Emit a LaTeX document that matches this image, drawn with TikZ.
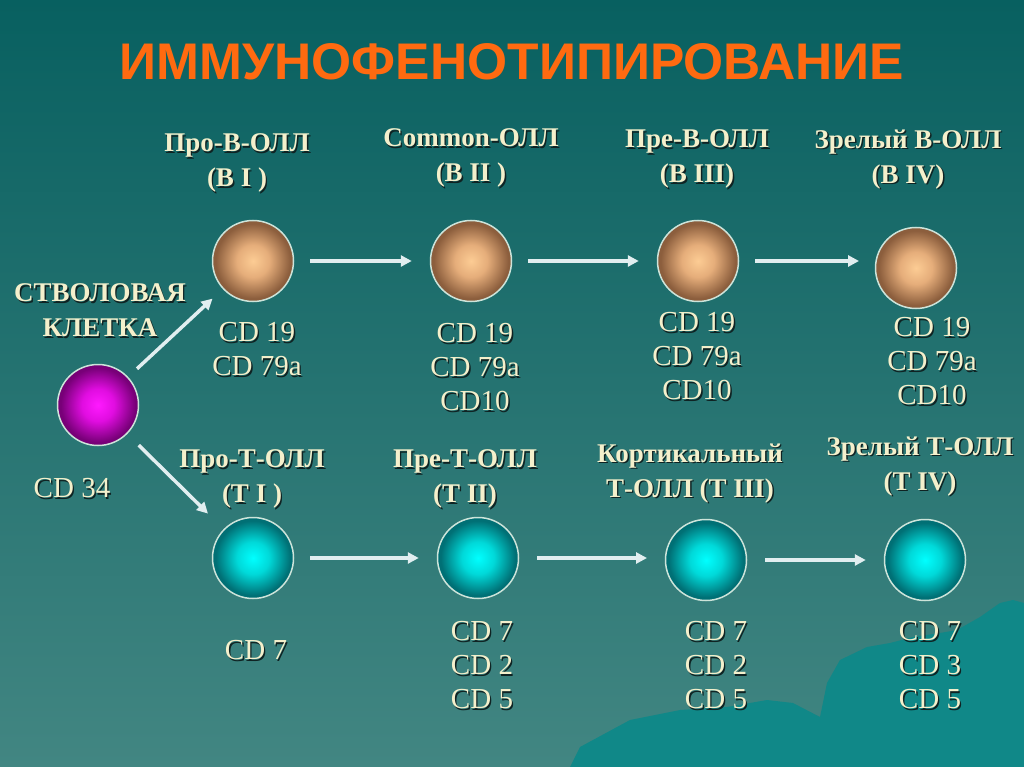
\documentclass[tikz,border=0pt]{standalone}
\usepackage{fontspec}
\setmainfont{Liberation Serif}
\newfontfamily\titlefont{Liberation Sans}
\usetikzlibrary{arrows.meta}
\definecolor{cream}{RGB}{244,240,204}
\definecolor{shadowcol}{RGB}{15,35,35}
\definecolor{titleorange}{RGB}{255,106,16}
\definecolor{bgtop}{RGB}{8,96,96}
\definecolor{bgbot}{RGB}{66,134,130}
\definecolor{ridge}{RGB}{16,136,136}
\definecolor{arrowcol}{RGB}{225,238,240}
\definecolor{rimcol}{RGB}{205,228,218}
\pgfdeclareradialshading{brownball}{\pgfpoint{0bp}{0bp}}{rgb(0bp)=(0.99,0.8,0.58);rgb(10bp)=(0.9,0.68,0.48);rgb(23bp)=(0.55,0.37,0.24);rgb(50bp)=(0.45,0.3,0.2)}
\pgfdeclareradialshading{cyanball}{\pgfpoint{0bp}{0bp}}{rgb(0bp)=(0,1,1);rgb(10bp)=(0,0.85,0.85);rgb(23bp)=(0,0.44,0.46);rgb(50bp)=(0,0.36,0.38)}
\pgfdeclareradialshading{magentaball}{\pgfpoint{0bp}{0bp}}{rgb(0bp)=(1,0.1,1);rgb(10bp)=(0.88,0.05,0.88);rgb(23bp)=(0.47,0,0.47);rgb(50bp)=(0.4,0,0.4)}
\newcommand{\shd}[1]{\leavevmode\rlap{\kern1.4pt\raisebox{-1.4pt}{\textcolor{shadowcol}{#1}}}#1}
\begin{document}
\begin{tikzpicture}[x=1pt, y=-1pt,
  cell/.style={circle, minimum size=81pt, inner sep=0pt, draw=rimcol, line width=1.5pt},
  ballB/.style={cell, shading=brownball},
  ballT/.style={cell, shading=cyanball},
  stemball/.style={cell, shading=magentaball},
  stage/.style={text=cream, font=\bfseries\fontsize{27}{35}\selectfont, align=center},
  marker/.style={text=cream, font=\fontsize{29}{34}\selectfont, align=center},
  flow/.style={draw=arrowcol, line width=3.5pt, -{Triangle[length=11pt,width=11pt]}, shorten <=16pt, shorten >=18pt}]
% background and ridge
\shade[top color=bgtop, bottom color=bgbot] (0,0) rectangle (1024,767);
\fill[ridge] (570,767) -- (580,747) -- (630,720) -- (680,710) -- (727,707) -- (767,700) -- (793,703)
  -- (820,717) -- (827,683) -- (840,660) -- (867,647) -- (890,643) -- (913,637) -- (940,633)
  -- (957,630) -- (980,617) -- (1000,603) -- (1013,600) -- (1024,603) -- (1024,767) -- cycle;
\node[text=titleorange, font=\titlefont\bfseries\fontsize{51.5}{52}\selectfont] (title) at (512,62) {ИММУНОФЕНОТИПИРОВАНИЕ};
% cells
\node[stemball] (stem) at (98,405) {};
\node[ballB] (b1) at (253,261) {};
\node[ballB] (b2) at (471,261) {};
\node[ballB] (b3) at (698,261) {};
\node[ballB] (b4) at (916,268) {};
\node[ballT] (t1) at (253,558) {};
\node[ballT] (t2) at (478,558) {};
\node[ballT] (t3) at (706,560) {};
\node[ballT] (t4) at (925,560) {};
% stage names
\node[stage] (stemlbl) at (100,311) {\shd{СТВОЛОВАЯ}\\\shd{КЛЕТКА}};
\node[stage] (b1lbl) at (237,164) {\shd{Про-В-ОЛЛ}\\\shd{(В I )}};
\node[stage] (b2lbl) at (471,159) {\shd{Common-ОЛЛ}\\\shd{(В II )}};
\node[stage] (b3lbl) at (697,160) {\shd{Пре-В-ОЛЛ}\\\shd{(В III)}};
\node[stage] (b4lbl) at (908,160) {\shd{Зрелый В-ОЛЛ}\\\shd{(В IV)}};
\node[stage] (t1lbl) at (252,480) {\shd{Про-Т-ОЛЛ}\\\shd{(Т I )}};
\node[stage] (t2lbl) at (465,480) {\shd{Пре-Т-ОЛЛ}\\\shd{(Т II)}};
\node[stage] (t3lbl) at (690,474) {\shd{Кортикальный}\\\shd{Т-ОЛЛ (Т III)}};
\node[stage] (t4lbl) at (920,467) {\shd{Зрелый Т-ОЛЛ}\\\shd{(Т IV)}};
% markers
\node[marker] (stemcd) at (72,489) {\shd{CD 34}};
\node[marker] (b1cd) at (257,350) {\shd{CD 19}\\\shd{CD 79a}};
\node[marker] (b2cd) at (475,368) {\shd{CD 19}\\\shd{CD 79a}\\\shd{CD10}};
\node[marker] (b3cd) at (697,357) {\shd{CD 19}\\\shd{CD 79a}\\\shd{CD10}};
\node[marker] (b4cd) at (932,362) {\shd{CD 19}\\\shd{CD 79a}\\\shd{CD10}};
\node[marker] (t1cd) at (256,651) {\shd{CD 7}};
\node[marker] (t2cd) at (482,666) {\shd{CD 7}\\\shd{CD 2}\\\shd{CD 5}};
\node[marker] (t3cd) at (716,666) {\shd{CD 7}\\\shd{CD 2}\\\shd{CD 5}};
\node[marker] (t4cd) at (930,666) {\shd{CD 7}\\\shd{CD 3}\\\shd{CD 5}};
% arrows
\draw[flow, shorten <=12pt, shorten >=14pt] (stem) -- (b1);
\draw[flow, shorten >=22pt] (stem) -- (t1);
\draw[flow] (b1) -- (b2);
\draw[flow] (b2) -- (b3);
\draw[flow, shorten >=57pt] (b3) -- (b3 -| b4);
\draw[flow] (t1) -- (t2);
\draw[flow, shorten <=18pt, shorten >=59pt] (t2) -- (t2 -| t3);
\draw[flow, shorten <=18pt] (t3) -- (t4);
\end{tikzpicture}
\end{document}
